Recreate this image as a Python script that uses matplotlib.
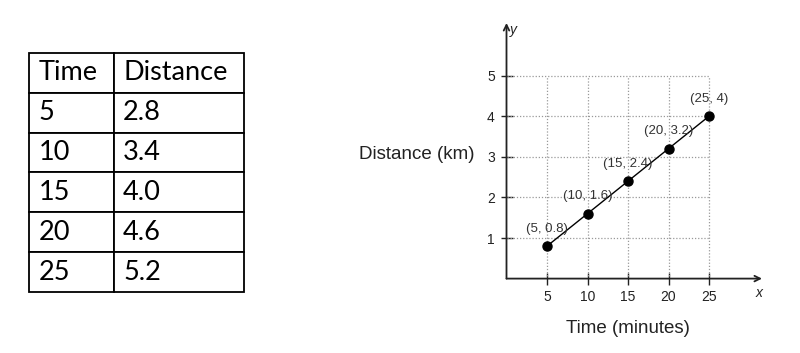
import matplotlib
matplotlib.use("Agg")
import matplotlib.pyplot as plt

# table data
table_cols = ["Time", "Distance"]
table_time = [5, 10, 15, 20, 25]
table_dist = [2.8, 3.4, 4.0, 4.6, 5.2]

# graph data
times = [5, 10, 15, 20, 25]
dists = [0.8, 1.6, 2.4, 3.2, 4]
x_ticks = [5, 10, 15, 20, 25]
y_ticks = [1, 2, 3, 4, 5]

W, H = 800, 353
fig = plt.figure(figsize=(W / 100, H / 100), dpi=100)
fig.patch.set_facecolor("white")


def px_axes(x0, y0, x1, y1):
    # pixel box (top-left origin) -> figure axes
    return fig.add_axes([x0 / W, 1 - y1 / H, (x1 - x0) / W, (y1 - y0) / H])


# ---- table ----
tax = px_axes(29, 53, 244, 292)
tax.axis("off")
rows = [[str(t), f"{d:.1f}"] for t, d in zip(table_time, table_dist)]
tbl = tax.table(cellText=rows, colLabels=table_cols, cellLoc="left", colLoc="left",
                colWidths=[85 / 215, 130 / 215], bbox=[0, 0, 1, 1])
tbl.auto_set_font_size(False)
for (r, c), cell in tbl.get_celld().items():
    cell.set_linewidth(1.3)
    cell.set_edgecolor("black")
    cell.PAD = 0.11 if c == 0 else 0.07
    cell.get_text().set_fontsize(19.5)
    cell.get_text().set_fontfamily("Lato")

# ---- graph ----
ax = px_axes(506.5, 23, 762, 278.6)
xmax = (762 - 506.5) / 8.1
ymax = (278.6 - 23) / 40.6
ax.set_xlim(0, xmax)
ax.set_ylim(0, ymax)
for s in ax.spines.values():
    s.set_visible(False)
ax.patch.set_alpha(0)

ax.hlines(y_ticks, 0, 25, colors="#999999", linestyles=(0, (1, 1.5)), linewidth=0.9)
ax.vlines(x_ticks, 0, 5, colors="#999999", linestyles=(0, (1, 1.5)), linewidth=0.9)

arrow = dict(arrowstyle="->", color="#222222", lw=1.3, shrinkA=0, shrinkB=0)
ax.annotate("", xy=(xmax, 0), xytext=(0, 0), arrowprops=arrow, annotation_clip=False)
ax.annotate("", xy=(0, ymax), xytext=(0, 0), arrowprops=arrow, annotation_clip=False)

ax.plot(times, dists, color="black", lw=1, marker="o", markersize=6.5, clip_on=False)
for t, d in zip(times, dists):
    ax.annotate(f"({t}, {d:g})", (t, d), xytext=(0, 12.5), textcoords="offset points",
                ha="center", va="center", fontsize=9.5, family="Liberation Sans",
                color="#333333")

ax.set_xticks(x_ticks)
ax.set_yticks(y_ticks)
ax.tick_params(direction="inout", length=9, width=1, labelsize=10, pad=4,
               colors="#222222")
for lab in ax.get_xticklabels() + ax.get_yticklabels():
    lab.set_family("Liberation Sans")

ax.text(0.4, ymax - 0.18, "y", fontsize=10, style="italic", family="Liberation Sans",
        ha="left", va="center", color="#222222")
ax.text(xmax - 0.4, -0.36, "x", fontsize=10, style="italic", family="Liberation Sans",
        ha="center", va="center", color="#222222")

# axis titles placed in pixel terms relative to the axes
ax.text(15, -1.22, "Time (minutes)", fontsize=13.5, family="Liberation Sans",
        ha="center", va="center", color="#222222")
ax.text(-3.9, 3.05, "Distance (km)", fontsize=13.5, family="Liberation Sans",
        ha="right", va="center", color="#222222")

fig.savefig("out.png", dpi=100, facecolor="white")
